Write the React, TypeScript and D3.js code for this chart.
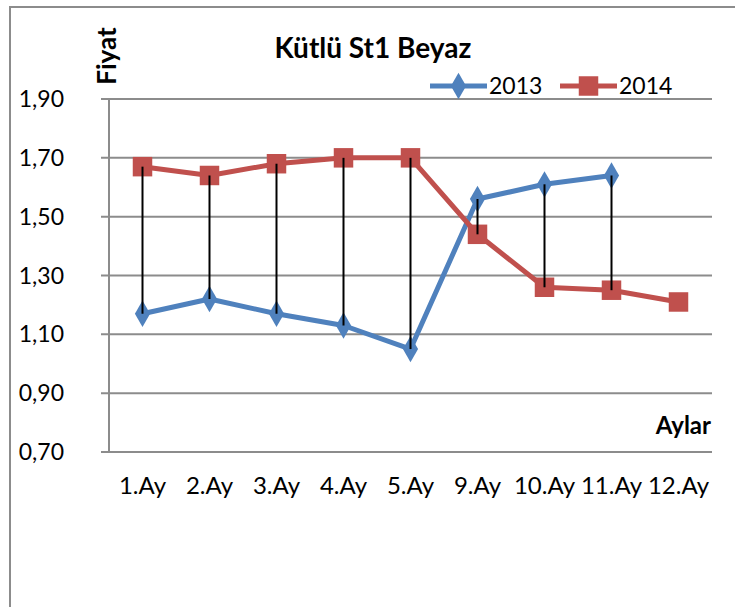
import React, { useEffect, useRef } from 'react';
import * as d3 from 'd3';

const months = ['1.Ay', '2.Ay', '3.Ay', '4.Ay', '5.Ay', '9.Ay', '10.Ay', '11.Ay', '12.Ay'];
const values2013: (number | null)[] = [1.17, 1.22, 1.17, 1.13, 1.05, 1.56, 1.61, 1.64, null];
const values2014: (number | null)[] = [1.67, 1.64, 1.68, 1.70, 1.70, 1.44, 1.26, 1.25, 1.21];
const yTicks = [0.7, 0.9, 1.1, 1.3, 1.5, 1.7, 1.9];

const FONT = 'Lato, "Open Sans", sans-serif';
const BLUE = '#4F81BD';
const RED = '#C0504D';
const GRID = '#8c8c8c';

const App: React.FC = () => {
  const svgRef = useRef<SVGSVGElement>(null);

  useEffect(() => {
    if (!svgRef.current) return;
    const svg = d3.select(svgRef.current);
    svg.selectAll('*').remove();

    const plot = { left: 109, right: 712, top: 99, bottom: 452 };

    const x = d3.scalePoint<string>().domain(months).range([plot.left, plot.right]).padding(0.5);
    const y = d3.scaleLinear().domain([0.7, 1.9]).range([plot.bottom, plot.top]);

    // chart border (runs off the right and bottom of the picture)
    svg.append('rect')
      .attr('x', 10).attr('y', 7)
      .attr('width', 760).attr('height', 640)
      .attr('fill', 'white')
      .attr('stroke', GRID)
      .attr('stroke-width', 2);

    // gridlines
    svg.append('g')
      .selectAll('line')
      .data(yTicks)
      .enter()
      .append('line')
      .attr('x1', plot.left - 8)
      .attr('x2', plot.right)
      .attr('y1', d => y(d))
      .attr('y2', d => y(d))
      .attr('stroke', GRID)
      .attr('stroke-width', 2);

    // value axis line
    svg.append('line')
      .attr('x1', plot.left).attr('x2', plot.left)
      .attr('y1', plot.top).attr('y2', plot.bottom)
      .attr('stroke', GRID)
      .attr('stroke-width', 2);

    // y tick labels
    svg.append('g')
      .selectAll('text')
      .data(yTicks)
      .enter()
      .append('text')
      .attr('x', 64)
      .attr('y', d => y(d))
      .attr('dy', '0.35em')
      .attr('text-anchor', 'end')
      .style('font-family', FONT)
      .style('font-size', '23px')
      .text(d => d3.format('.2f')(d).replace('.', ','));

    // category labels
    svg.append('g')
      .selectAll('text')
      .data(months)
      .enter()
      .append('text')
      .attr('x', d => x(d)!)
      .attr('y', 494)
      .attr('text-anchor', 'middle')
      .style('font-family', FONT)
      .style('font-size', '24px')
      .text(d => d);

    const seriesList = [
      { name: '2013', values: values2013, color: BLUE, symbol: d3.symbolDiamond, size: 200 },
      { name: '2014', values: values2014, color: RED, symbol: d3.symbolSquare, size: 380 },
    ];

    const line = d3.line<[string, number | null]>()
      .defined(d => d[1] !== null)
      .x(d => x(d[0])!)
      .y(d => y(d[1] as number));

    seriesList.forEach(s => {
      const pts: [string, number | null][] = months.map((m, i) => [m, s.values[i]]);
      svg.append('path')
        .datum(pts)
        .attr('d', line)
        .attr('fill', 'none')
        .attr('stroke', s.color)
        .attr('stroke-width', 5)
        .attr('stroke-linejoin', 'round');

      svg.append('g')
        .selectAll('path')
        .data(pts.filter(p => p[1] !== null))
        .enter()
        .append('path')
        .attr('transform', d => `translate(${x(d[0])},${y(d[1] as number)})`)
        .attr('d', d3.symbol().type(s.symbol).size(s.size)())
        .attr('fill', s.color);
    });

    // high-low lines
    svg.append('g')
      .selectAll('line')
      .data(months.filter((m, i) => values2013[i] !== null && values2014[i] !== null))
      .enter()
      .append('line')
      .attr('x1', d => x(d)!)
      .attr('x2', d => x(d)!)
      .attr('y1', d => y(values2013[months.indexOf(d)] as number))
      .attr('y2', d => y(values2014[months.indexOf(d)] as number))
      .attr('stroke', '#000')
      .attr('stroke-width', 2);

    // title
    svg.append('text')
      .attr('x', 373)
      .attr('y', 58)
      .attr('text-anchor', 'middle')
      .style('font-family', FONT)
      .style('font-size', '28px')
      .style('font-weight', 'bold')
      .text('Kütlü St1 Beyaz');

    // axis titles
    svg.append('text')
      .attr('transform', 'translate(116,56) rotate(-90)')
      .attr('text-anchor', 'middle')
      .style('font-family', FONT)
      .style('font-size', '26px')
      .style('font-weight', 'bold')
      .text('Fiyat');

    svg.append('text')
      .attr('x', 711)
      .attr('y', 434)
      .attr('text-anchor', 'end')
      .style('font-family', FONT)
      .style('font-size', '24px')
      .style('font-weight', 'bold')
      .text('Aylar');

    // legend
    const legend = [
      { ...seriesList[0], x0: 430 },
      { ...seriesList[1], x0: 560 },
    ];
    legend.forEach(l => {
      const g = svg.append('g').attr('transform', `translate(${l.x0},86)`);
      g.append('line')
        .attr('x1', 0).attr('x2', 57)
        .attr('stroke', l.color)
        .attr('stroke-width', 5);
      g.append('path')
        .attr('transform', 'translate(28.5,0)')
        .attr('d', d3.symbol().type(l.symbol).size(l.size)())
        .attr('fill', l.color);
      g.append('text')
        .attr('x', 59)
        .attr('dy', '0.35em')
        .style('font-family', FONT)
        .style('font-size', '23px')
        .text(l.name);
    });
  }, []);

  return (
    <svg
      ref={svgRef}
      width={735}
      height={607}
      viewBox="0 0 735 607"
      style={{ position: 'absolute', left: 0, top: 0, display: 'block', background: 'white' }}
    />
  );
};

export default App;
